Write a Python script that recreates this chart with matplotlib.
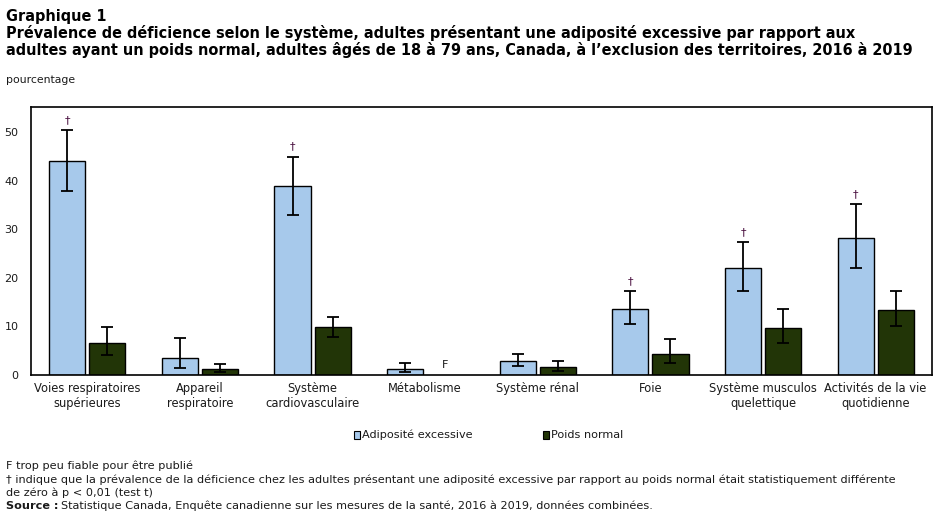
import matplotlib
matplotlib.use("Agg")
import matplotlib.pyplot as plt
import numpy as np
from matplotlib.patches import Rectangle

categories = ["Voies respiratoires\nsupérieures", "Appareil\nrespiratoire", "Système\ncardiovasculaire",
              "Métabolisme", "Système rénal", "Foie", "Système musculos\nquelettique",
              "Activités de la vie\nquotidienne"]
adipo = [44.0, 3.6, 38.9, 1.2, 2.8, 13.5, 22.0, 28.2]
adipo_lo = [37.8, 1.4, 32.9, 0.6, 1.8, 10.6, 17.4, 22.0]
adipo_hi = [50.4, 7.6, 45.0, 2.4, 4.3, 17.2, 27.3, 35.3]
normal = [6.5, 1.2, 9.8, np.nan, 1.6, 4.3, 9.6, 13.3]
normal_lo = [4.1, 0.6, 7.8, np.nan, 0.8, 2.4, 6.5, 10.0]
normal_hi = [9.8, 2.2, 11.9, np.nan, 2.8, 7.4, 13.5, 17.4]
dagger = [True, False, True, False, False, True, True, True]
unreliable = [False, False, False, True, False, False, False, False]
yticks = [0, 10, 20, 30, 40, 50]

c_adipo = "#a7c9eb"
c_norm = "#223507"
txt = "#1a1a1a"

fig = plt.figure(figsize=(9.37, 5.18), dpi=100)
W, H = 937, 518
ax = fig.add_axes([31 / W, 1 - 375 / H, 901 / W, 268 / H])

x = np.arange(len(categories))
bw = 0.32
off = 0.178
a = np.array(adipo)
n = np.array(normal)
ax.bar(x - off, a, bw, color=c_adipo, edgecolor="black", linewidth=1, zorder=2)
ax.bar(x + off, n, bw, color=c_norm, edgecolor="black", linewidth=1, zorder=2)
ax.errorbar(x - off, a, yerr=[a - np.array(adipo_lo), np.array(adipo_hi) - a], fmt="none",
            ecolor="black", elinewidth=1.3, capsize=4, capthick=1.3, zorder=3)
ax.errorbar(x + off, n, yerr=[n - np.array(normal_lo), np.array(normal_hi) - n], fmt="none",
            ecolor="black", elinewidth=1.3, capsize=4, capthick=1.3, zorder=3)
for i in range(len(categories)):
    if dagger[i]:
        ax.text(x[i] - off, adipo_hi[i] + 1.0, "†", ha="center", va="bottom", fontsize=8, color="#4a1040")
    if unreliable[i]:
        ax.text(x[i] + off, 1.0, "F", ha="center", va="bottom", fontsize=8, color=txt)

ax.set_xlim(-0.5, len(categories) - 0.5)
ax.set_ylim(0, 55.2)
ax.set_yticks(yticks)
ax.set_yticklabels([str(v) for v in yticks], fontsize=8, color=txt)
ax.set_xticks(x)
ax.set_xticklabels(categories, fontsize=8.3, color=txt, linespacing=1.2)
ax.tick_params(axis="both", length=0, pad=7)
ax.tick_params(axis="x", pad=5)
ax.tick_params(axis="y", pad=9)
for s in ax.spines.values():
    s.set_linewidth(1.2)

# Titles
tfs = 11.6
fig.text(6 / W, 1 - 16 / H, "Graphique 1", fontsize=tfs, fontweight="bold", va="center", ha="left",
         fontstretch="condensed")
fig.text(6 / W, 1 - 33 / H,
         "Prévalence de déficience selon le système, adultes présentant une adiposité excessive par rapport aux",
         fontsize=tfs, fontweight="bold", va="center", ha="left", fontstretch="condensed")
fig.text(6 / W, 1 - 50 / H,
         "adultes ayant un poids normal, adultes âgés de 18 à 79 ans, Canada, à l’exclusion des territoires, 2016 à 2019",
         fontsize=tfs, fontweight="bold", va="center", ha="left", fontstretch="condensed")
fig.text(6 / W, 1 - 80 / H, "pourcentage", fontsize=7.8, va="center", ha="left", color=txt)

# Legend
def legend_item(px, label, color):
    fig.patches.append(Rectangle((px / W, 1 - 439 / H), 6 / W, 8 / H, transform=fig.transFigure,
                                 facecolor=color, edgecolor="black", linewidth=0.8))
    fig.text((px + 8) / W, 1 - 435 / H, label, fontsize=8.1, va="center", ha="left", color=txt)

legend_item(354, "Adiposité excessive", c_adipo)
legend_item(543, "Poids normal", c_norm)

# Footnotes
fs = 8.1
fig.text(6 / W, 1 - 466 / H, "F trop peu fiable pour être publié", fontsize=fs, va="center", color=txt)
fig.text(6 / W, 1 - 480 / H,
         "† indique que la prévalence de la déficience chez les adultes présentant une adiposité excessive par rapport au poids normal était statistiquement différente",
         fontsize=fs, va="center", color=txt)
fig.text(6 / W, 1 - 493 / H, "de zéro à p < 0,01 (test t)", fontsize=fs, va="center", color=txt)
t = fig.text(6 / W, 1 - 506 / H, "Source :", fontsize=fs, va="center", fontweight="bold", color=txt)
fig.canvas.draw()
bb = t.get_window_extent()
fig.text((bb.x1 + 3) / W, 1 - 506 / H,
         "Statistique Canada, Enquête canadienne sur les mesures de la santé, 2016 à 2019, données combinées.",
         fontsize=fs, va="center", color=txt)

fig.savefig("out.png", dpi=100)
